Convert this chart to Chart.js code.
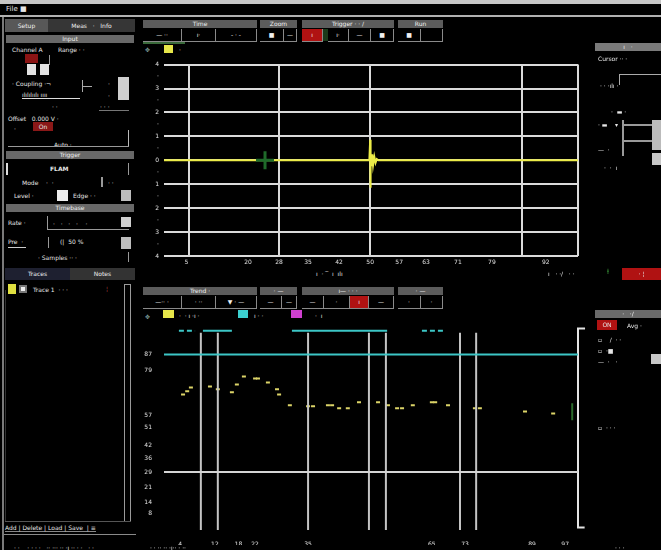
<!DOCTYPE html>
<html>
<head>
<meta charset="utf-8">
<title>Scope</title>
<script src="https://cdn.jsdelivr.net/npm/chart.js@4.4.1/dist/chart.umd.min.js"></script>
<style>
  html, body { margin: 0; padding: 0; background: #000; }
  #app { position: relative; width: 661px; height: 550px; background: #000; overflow: hidden;
         font-family: "DejaVu Sans", "Liberation Sans", sans-serif; color: #e8e8e8; }
  .b { position: absolute; box-sizing: border-box; }
  .t { position: absolute; font-size: 6px; line-height: 7px; white-space: nowrap; color: #e6e6e6; }
  .hd { position: absolute; background: #5c5c5c; height: 8px; font-size: 6px; line-height: 8px;
        text-align: center; color: #f0f0f0; box-sizing: border-box; }
  .btn { position: absolute; height: 13px; border-right: 1px solid #8a8a8a; border-bottom: 1px solid #8a8a8a;
         font-size: 6px; line-height: 12px; text-align: center; color: #f0f0f0; box-sizing: border-box; }
  .red { background: #b01212; }
  canvas { position: absolute; }
</style>
</head>
<body>
<div id="app">
  <!-- window frame -->
  <div class="b" style="left:0;top:0;width:661px;height:4px;background:#c6c6c6"></div>
  <div class="t" style="left:6px;top:6px;font-size:7px">File  ■</div>
  <div class="b" style="left:0;top:15px;width:661px;height:2px;background:#b0b0b0"></div>
  <div class="b" style="left:2px;top:17px;width:2px;height:533px;background:#7a7a7a"></div>

  <!-- left settings panel -->
  <div class="hd" style="left:5px;top:19px;width:43px;height:13px;line-height:13px;background:#585858">Setup</div>
  <div class="hd" style="left:48px;top:19px;width:87px;height:13px;line-height:13px;background:#363636">Meas &nbsp; · &nbsp; Info</div>
  <div class="hd" style="left:6px;top:35px;width:128px;background:#686868">Input</div>
  <div class="t" style="left:12px;top:46px">Channel A &nbsp;&nbsp;&nbsp;&nbsp;&nbsp;&nbsp; Range · ·</div>
  <div class="b red" style="left:25px;top:54px;width:13px;height:9px;background:#8a1414"></div>
  <div class="b" style="left:27px;top:64px;width:9px;height:11px;background:#e2e2e2"></div>
  <div class="b" style="left:40px;top:64px;width:9px;height:11px;background:#e2e2e2"></div>
  <div class="b" style="left:49px;top:55px;width:1px;height:10px;background:#999"></div>
  <div class="t" style="left:12px;top:80px">· Coupling ·¬</div>
  <div class="b" style="left:82px;top:80px;width:1px;height:12px;background:#aaa"></div>
  <div class="b" style="left:82px;top:86px;width:10px;height:1px;background:#aaa"></div>
  <div class="t" style="left:108px;top:80px">·</div>
  <div class="b" style="left:118px;top:77px;width:11px;height:23px;background:#cfcfcf;border:2px solid #cfcfcf;border-top-width:4px"></div>
  <div class="t" style="left:22px;top:91px;border-bottom:1px solid #ddd;width:58px;font-size:6px">ılılılıılı ıııı</div>
  <div class="t" style="left:108px;top:92px">·</div>
  <div class="t" style="left:52px;top:103px">· ·</div>
  <div class="b" style="left:99px;top:110px;width:30px;height:1px;background:#777"></div>
  <div class="t" style="left:100px;top:103px">· · ·</div>
  <div class="t" style="left:8px;top:115px">Offset &nbsp; 0.000 V ·</div>
  <div class="t" style="left:14px;top:125px">·</div>
  <div class="b red" style="left:33px;top:122px;width:20px;height:9px;background:#8a1818;font-size:6px;line-height:9px;text-align:center">On</div>
  <div class="t" style="left:54px;top:141px">Auto ·</div>
  <div class="b" style="left:128px;top:130px;width:1px;height:17px;background:#bbb"></div>
  <div class="b" style="left:8px;top:146px;width:121px;height:1px;background:#999"></div>

  <div class="hd" style="left:6px;top:151px;width:128px;background:#686868">Trigger</div>
  <div class="b" style="left:6px;top:163px;width:2px;height:12px;background:#ddd"></div>
  <div class="t" style="left:50px;top:165px;font-weight:bold">FLAM</div>
  <div class="b" style="left:128px;top:163px;width:1px;height:12px;background:#999"></div>
  <div class="t" style="left:22px;top:179px">Mode &nbsp;&nbsp; ·&nbsp; ·</div>
  <div class="b" style="left:101px;top:177px;width:2px;height:10px;background:#999"></div>
  <div class="t" style="left:108px;top:179px">· ·</div>
  <div class="t" style="left:14px;top:192px">Level ·</div>
  <div class="b" style="left:57px;top:190px;width:11px;height:11px;background:#eee"></div>
  <div class="t" style="left:73px;top:192px">Edge · ·</div>
  <div class="b" style="left:121px;top:190px;width:10px;height:11px;background:#bdbdbd"></div>

  <div class="hd" style="left:6px;top:204px;width:128px;background:#686868">Timebase</div>
  <div class="t" style="left:8px;top:219px">Rate ·</div>
  <div class="b" style="left:47px;top:216px;width:82px;height:14px;border-left:1px solid #999;border-bottom:1px solid #999"></div>
  <div class="t" style="left:53px;top:220px">· &nbsp; · &nbsp; · &nbsp; · &nbsp;&nbsp; ·</div>
  <div class="b" style="left:121px;top:217px;width:10px;height:10px;background:#cfcfcf"></div>
  <div class="t" style="left:8px;top:238px">Pre &nbsp;·</div>
  <div class="b" style="left:8px;top:247px;width:18px;height:1px;background:#ccc"></div>
  <div class="b" style="left:48px;top:237px;width:1px;height:11px;background:#999"></div>
  <div class="t" style="left:60px;top:238px">(| &nbsp;50 %</div>
  <div class="b" style="left:121px;top:237px;width:10px;height:12px;background:#bdbdbd"></div>
  <div class="t" style="left:38px;top:254px">· Samples ·· ·</div>
  <div class="b" style="left:128px;top:252px;width:1px;height:10px;background:#999"></div>

  <div class="hd" style="left:5px;top:268px;width:65px;height:12px;line-height:12px;background:#1e2030">Traces</div>
  <div class="hd" style="left:70px;top:268px;width:65px;height:12px;line-height:12px;background:#333">Notes</div>
  <div class="b" style="left:8px;top:284px;width:8px;height:10px;background:#e0e040"></div>
  <div class="b" style="left:19px;top:285px;width:8px;height:8px;background:#eee;border:2px solid #777"></div>
  <div class="t" style="left:33px;top:286px">Trace 1 &nbsp;· · ·</div>
  <div class="t" style="left:106px;top:285px;color:#b04040">¦</div>
  <div class="b" style="left:124px;top:284px;width:7px;height:238px;border:1px solid #9a9a9a"></div>
  <div class="b" style="left:5px;top:290px;width:1px;height:232px;background:#333"></div>
  <div class="b" style="left:5px;top:521px;width:126px;height:1px;background:#555"></div>
  <div class="t" style="left:5px;top:524px;border-bottom:1px solid #888">Add | Delete | Load | Save &nbsp;| ≡</div>
  <div class="b" style="left:4px;top:534px;width:132px;height:1px;background:#8a8a8a"></div>

  <!-- toolbar above the waveform view -->
  <div class="hd" style="left:143px;top:20px;width:114px">Time</div>
  <div class="hd" style="left:260px;top:20px;width:37px">Zoom</div>
  <div class="hd" style="left:302px;top:20px;width:92px">Trigger · · /</div>
  <div class="hd" style="left:398px;top:20px;width:45px">Run</div>
  <div class="btn" style="left:143px;top:29px;width:39px">— ··</div>
  <div class="btn" style="left:182px;top:29px;width:34px">ı·</div>
  <div class="btn" style="left:216px;top:29px;width:41px">- · -</div>
  <div class="btn" style="left:260px;top:29px;width:24px">■</div>
  <div class="btn" style="left:284px;top:29px;width:13px">—</div>
  <div class="btn red" style="left:302px;top:29px;width:21px">ı</div>
  <div class="b" style="left:323px;top:29px;width:5px;height:12px;background:#1a3a1a"></div>
  <div class="btn" style="left:328px;top:29px;width:21px">ı·</div>
  <div class="btn" style="left:349px;top:29px;width:22px">—</div>
  <div class="btn" style="left:371px;top:29px;width:23px">■</div>
  <div class="btn" style="left:398px;top:29px;width:23px">■</div>
  <div class="btn" style="left:421px;top:29px;width:22px"></div>
  <div class="b" style="left:143px;top:42px;width:42px;height:2px;background:#3a6a3a"></div>
  <div class="t" style="left:145px;top:46px;color:#8aa">✥</div>
  <div class="b" style="left:164px;top:45px;width:9px;height:8px;background:#e6e64a"></div>
  <div class="t" style="left:179px;top:46px">·</div>

  <canvas id="scope" width="450" height="214" style="left:140px;top:56px;width:450px;height:214px"></canvas>

  <div class="t" style="left:316px;top:270px">ı &nbsp;· ‾ &nbsp;ı &nbsp;ılı</div>
  <div class="t" style="left:548px;top:270px">ı &nbsp; · ·/ &nbsp; · ·</div>
  <div class="t" style="left:607px;top:269px;color:#3a9a3a;font-size:7px">ⱡ</div>
  <div class="b red" style="left:622px;top:268px;width:39px;height:12px;font-size:6px;line-height:12px;text-align:center">· ¦</div>

  <!-- toolbar above the trend view -->
  <div class="hd" style="left:143px;top:287px;width:114px">Trend ·</div>
  <div class="hd" style="left:260px;top:287px;width:37px">· —</div>
  <div class="hd" style="left:302px;top:287px;width:92px">ı— · · ·</div>
  <div class="hd" style="left:398px;top:287px;width:45px">· —</div>
  <div class="btn" style="left:143px;top:296px;width:39px">—·· ·</div>
  <div class="btn" style="left:182px;top:296px;width:34px">· ··</div>
  <div class="btn" style="left:216px;top:296px;width:41px">▼ · —</div>
  <div class="btn" style="left:260px;top:296px;width:22px">—</div>
  <div class="btn" style="left:282px;top:296px;width:15px">—</div>
  <div class="btn" style="left:302px;top:296px;width:22px">—</div>
  <div class="btn" style="left:324px;top:296px;width:26px">·</div>
  <div class="btn red" style="left:350px;top:296px;width:19px">ı</div>
  <div class="btn" style="left:369px;top:296px;width:25px">—</div>
  <div class="btn" style="left:398px;top:296px;width:23px">·</div>
  <div class="btn" style="left:421px;top:296px;width:22px">·</div>
  <div class="t" style="left:145px;top:313px;color:#8aa">✥</div>
  <div class="b" style="left:163px;top:310px;width:11px;height:8px;background:#e6e64a"></div>
  <div class="t" style="left:179px;top:312px">· &nbsp;· ı ·ı ·</div>
  <div class="b" style="left:238px;top:310px;width:10px;height:8px;background:#3cd0d0"></div>
  <div class="t" style="left:254px;top:312px">ı · ·</div>
  <div class="b" style="left:291px;top:310px;width:11px;height:8px;background:#d040d0"></div>
  <div class="t" style="left:315px;top:312px">· &nbsp;ı</div>

  <canvas id="trend" width="450" height="225" style="left:140px;top:320px;width:450px;height:225px"></canvas>

  <!-- right-hand measurement panel -->
  <div class="hd" style="left:595px;top:43px;width:66px;background:#7a7a7a">ı &nbsp; ·</div>
  <div class="t" style="left:598px;top:55px">Cursor ·· ·</div>
  <div class="b" style="left:619px;top:74px;width:42px;height:11px;border-top:1px solid #aaa;border-left:1px solid #aaa"></div>
  <div class="t" style="left:600px;top:82px">· · ·ılı ·</div>
  <div class="t" style="left:611px;top:108px">· &nbsp;▬ ·</div>
  <div class="t" style="left:598px;top:121px">· ▬ &nbsp;&nbsp; ▾</div>
  <div class="b" style="left:622px;top:120px;width:2px;height:36px;background:#999"></div>
  <div class="b" style="left:622px;top:124px;width:32px;height:2px;background:#999"></div>
  <div class="b" style="left:622px;top:140px;width:32px;height:2px;background:#999"></div>
  <div class="b" style="left:652px;top:120px;width:9px;height:30px;background:#bbb"></div>
  <div class="t" style="left:598px;top:146px">— &nbsp;·</div>
  <div class="t" style="left:604px;top:164px">· &nbsp;· &nbsp;ı</div>
  <div class="b" style="left:652px;top:153px;width:9px;height:12px;background:#c8c8c8"></div>

  <div class="hd" style="left:595px;top:310px;width:66px;background:#6a6a6a">· &nbsp; ·/</div>
  <div class="b red" style="left:597px;top:320px;width:20px;height:10px;font-size:6px;line-height:10px;text-align:center">ON</div>
  <div class="t" style="left:627px;top:322px">Avg ·</div>
  <div class="t" style="left:598px;top:336px">▫ &nbsp;&nbsp;&nbsp;/ &nbsp;· ·</div>
  <div class="t" style="left:598px;top:347px">▫ &nbsp;·■</div>
  <div class="t" style="left:598px;top:358px">— &nbsp;· &nbsp;&nbsp;·</div>
  <div class="b" style="left:651px;top:354px;width:10px;height:10px;background:#c8c8c8"></div>
  <div class="t" style="left:598px;top:424px">▫ &nbsp;· · ·</div>

  <!-- status line -->
  <div class="t" style="left:14px;top:544px">· · &nbsp;&nbsp; · · · · &nbsp; ·· ··· ·· ·ı ·· · · &nbsp; · ·</div>
  <div class="t" style="left:150px;top:544px">· · ·· ·· ·ı·· · ··</div>
  <div class="t" style="left:615px;top:544px">· · ·</div>
</div>

<script>
// ---- waveform view (upper) ----
const scopeTime  = [0, 49.6, 49.8, 49.85, 49.95, 50.1, 50.3, 50.5, 50.8, 51.1, 51.4, 51.8, 100];
const scopeVolts = [0, 0, 0.86, -1.15, 0.3, -0.25, 0.25, -0.2, 0.15, -0.1, 0.05, 0, 0];
const triggerMark = { x: 24.4, y: 0 };
const scopeGridX  = [6.0, 27.8, 49.8, 86.5, 100];
const scopeLabelX = [5.4, 20.3, 27.8, 34.8, 42.3, 49.8, 56.8, 63.3, 71.0, 79.2, 92.2];

// ---- trend view (lower) ----
const trendTime  = [4.6, 5.6, 6.5, 11.1, 13.0, 16.4, 17.6, 19.3, 22.0, 22.7, 25.1, 27.3, 27.8, 30.4,
                    34.8, 36.0, 39.6, 40.6, 42.3, 44.4, 47.1, 51.7, 54.1, 56.3, 57.5, 60.1, 64.7, 65.5,
                    68.6, 75.1, 76.3, 87.2, 94.0];
const trendValue = [67.0, 68.5, 70.4, 70.9, 69.5, 68.0, 71.9, 75.9, 74.9, 74.9, 72.9, 69.5, 67.0, 61.6,
                    61.1, 61.1, 61.6, 61.6, 60.1, 60.1, 63.1, 63.1, 61.6, 60.1, 60.1, 61.6, 63.1, 63.1,
                    61.6, 60.1, 60.1, 58.6, 57.6];
const upperLimit = 86.7;
const lowerLimit = 28.6;
const gateLevel  = 98.5;
const gateSolid  = [[9.4, 16.4], [30.9, 53.9]];
const gateDashed = [[3.6, 7.5], [62.3, 67.9]];
const eventTimes = [8.9, 13.0, 34.8, 49.5, 53.6, 71.5, 75.4];
const eventTop   = 97.5;
const trendTicksX = [3.9, 12.3, 18.0, 22.0, 34.8, 64.7, 72.7, 88.9, 96.9];
const trendTicksY = [86.7, 78.8, 56.7, 50.7, 41.9, 35.5, 28.6, 21.2, 13.8, 8.4];
const driftMark  = [[98.6, 62.6], [98.6, 54.2]];
const rangeBracket = [[101.7, 99.5], [100, 99.5], [100, 1.2], [101.6, 1.2]];

const tickFont = { family: 'DejaVu Sans', size: 6 };

function segmentsToPoints(segs) {
  const pts = [];
  segs.forEach(([a, b]) => { pts.push({ x: a, y: gateLevel }, { x: b, y: gateLevel }, { x: b, y: null }); });
  return pts;
}
function fixedWidth(w) { return s => { s.width = w; }; }
function fixedHeight(h) { return s => { s.height = h; }; }

new Chart(document.getElementById('scope'), {
  type: 'scatter',
  data: {
    datasets: [
      {
        data: scopeTime.map((t, i) => ({ x: t, y: scopeVolts[i] })),
        showLine: true, borderColor: '#ecec48', borderWidth: 2, pointRadius: 0, tension: 0, order: 1
      },
      {
        data: [triggerMark], order: 0,
        pointStyle: 'cross', pointRadius: 9, borderColor: '#1f6a2a', pointBorderWidth: 3,
        backgroundColor: '#1f6a2a'
      }
    ]
  },
  options: {
    responsive: false, animation: false, devicePixelRatio: 1,
    layout: { autoPadding: false, padding: { left: 0, right: 12, top: 6, bottom: 0 } },
    plugins: { legend: { display: false }, tooltip: { enabled: false } },
    scales: {
      x: {
        type: 'linear', min: 0, max: 100,
        afterBuildTicks: s => { s.ticks = [...new Set([...scopeLabelX, ...scopeGridX])].sort((a, b) => a - b).map(v => ({ value: v })); },
        afterFit: fixedHeight(14),
        border: { display: false },
        grid: {
          drawTicks: false, lineWidth: 2,
          color: c => (c.tick && scopeGridX.includes(c.tick.value)) ? '#dadada' : 'rgba(0,0,0,0)'
        },
        ticks: {
          autoSkip: false, maxRotation: 0, padding: 3, color: '#e0e0e0', font: tickFont,
          callback: v => scopeLabelX.includes(v) ? String(Math.round(v)) : ''
        }
      },
      y: {
        min: -4, max: 4,
        afterFit: fixedWidth(24),
        border: { display: false },
        grid: {
          drawTicks: false, lineWidth: 2,
          color: c => (c.tick && Number.isInteger(c.tick.value)) ? '#dadada' : 'rgba(0,0,0,0)'
        },
        ticks: { stepSize: 0.5, padding: 5, color: '#e0e0e0', font: tickFont,
                 callback: v => Number.isInteger(v) ? String(Math.abs(v)) : '·' }
      }
    }
  }
});

const eventPoints = [];
eventTimes.forEach(t => { eventPoints.push({ x: t, y: eventTop }, { x: t, y: 0 }, { x: t, y: null }); });

new Chart(document.getElementById('trend'), {
  type: 'scatter',
  data: {
    datasets: [
      { data: [{ x: 0, y: upperLimit }, { x: 100, y: upperLimit }], showLine: true,
        borderColor: '#3cc6c6', borderWidth: 2, pointRadius: 0 },
      { data: [{ x: 0, y: lowerLimit }, { x: 100, y: lowerLimit }], showLine: true,
        borderColor: '#d4d4d4', borderWidth: 2, pointRadius: 0 },
      { data: segmentsToPoints(gateSolid), showLine: true, spanGaps: false,
        borderColor: '#3cc6c6', borderWidth: 2, pointRadius: 0 },
      { data: segmentsToPoints(gateDashed), showLine: true, spanGaps: false,
        borderColor: '#3cc6c6', borderWidth: 2, borderDash: [5, 3], pointRadius: 0 },
      { data: eventPoints, showLine: true, spanGaps: false,
        borderColor: '#c4c4c4', borderWidth: 2, pointRadius: 0 },
      { data: trendTime.map((t, i) => ({ x: t, y: trendValue[i] })),
        pointStyle: 'line', pointRadius: 2, pointBorderWidth: 2,
        borderColor: '#dcd468', backgroundColor: '#dcd468' },
      { data: driftMark.map(([x, y]) => ({ x, y })), showLine: true,
        borderColor: '#2a6a2a', borderWidth: 2, pointRadius: 0 },
      { data: rangeBracket.map(([x, y]) => ({ x, y })), showLine: true, clip: false,
        borderColor: '#e4e4e4', borderWidth: 2, pointRadius: 0 }
    ]
  },
  options: {
    responsive: false, animation: false, devicePixelRatio: 1,
    layout: { autoPadding: false, padding: { left: 0, right: 12, top: 7, bottom: 0 } },
    plugins: { legend: { display: false }, tooltip: { enabled: false } },
    scales: {
      x: {
        type: 'linear', min: 0, max: 100,
        afterBuildTicks: s => { s.ticks = trendTicksX.map(v => ({ value: v })); },
        afterFit: fixedHeight(15),
        border: { display: false },
        grid: { display: false },
        ticks: { autoSkip: false, maxRotation: 0, padding: 3, color: '#e0e0e0', font: tickFont,
                 callback: v => String(Math.round(v)) }
      },
      y: {
        min: 0, max: 100,
        afterBuildTicks: s => { s.ticks = trendTicksY.map(v => ({ value: v })); },
        afterFit: fixedWidth(24),
        border: { display: false },
        grid: { display: false },
        ticks: { autoSkip: false, padding: 4, color: '#e0e0e0', font: tickFont,
                 callback: v => String(Math.round(v)) }
      }
    }
  }
});
</script>
</body>
</html>
